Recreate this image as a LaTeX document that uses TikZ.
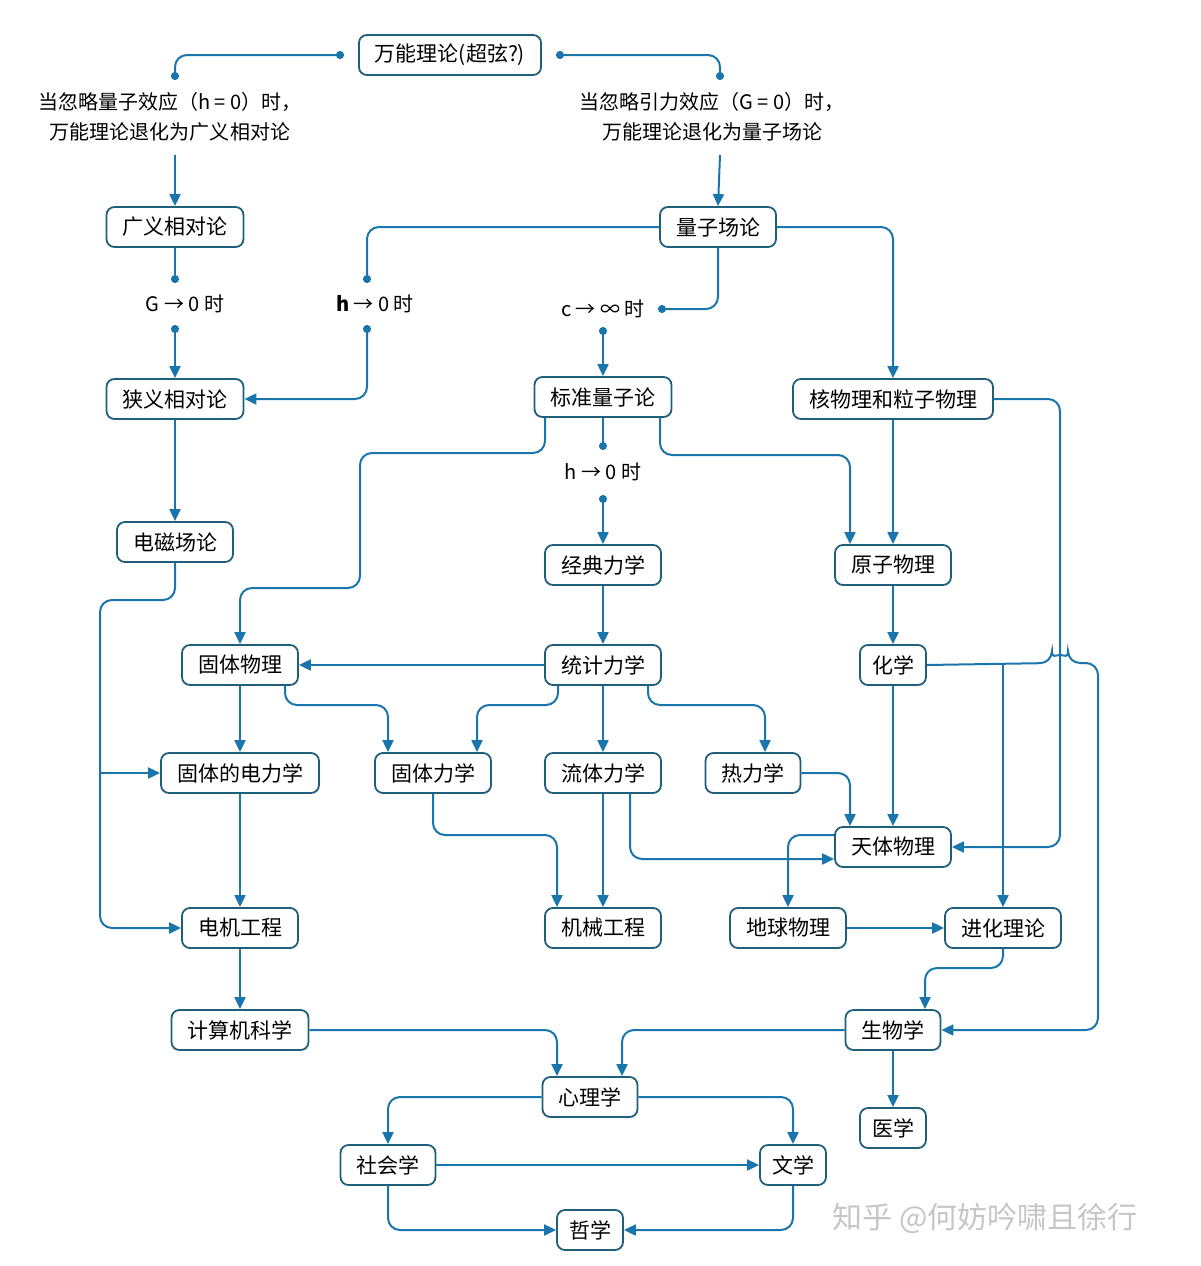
\documentclass[tikz,border=0pt]{standalone}
\usepackage{fontspec}
\setmainfont{Noto Sans CJK SC}
\usetikzlibrary{arrows.meta,calc}
\definecolor{boxc}{HTML}{1F5F7A}
\definecolor{lc}{HTML}{1B75AD}
\begin{document}
\begin{tikzpicture}[x=1pt,y=-1pt,
  box/.style={draw=boxc,line width=1.8pt,rounded corners=8pt,fill=white,minimum height=40pt,inner xsep=16pt,font=\fontsize{21}{24}\selectfont},
  lbl/.style={font=\fontsize{20}{30}\selectfont,align=center,inner sep=0pt},
  ln/.style={draw=lc,line width=2pt,rounded corners=12pt},
  ar/.style={ln,-{Triangle[length=12pt,width=11pt]}},
  ld/.style={ln,-{Circle[length=8pt]}},
  da/.style={ln,{Circle[length=8pt]}-{Triangle[length=12pt,width=11pt]}},
  dd/.style={ln,{Circle[length=8pt]}-{Circle[length=8pt]}}]
\useasboundingbox (0,0) rectangle (1200,1266);
% nodes
\node[box] (toe) at (450,55) {万能理论(超弦?)};
\node[lbl] (lq) at (170,117) {当忽略量子效应（h = 0）时，\\万能理论退化为广义相对论};
\node[lbl] (lg) at (712,117) {当忽略引力效应（G = 0）时，\\万能理论退化为量子场论};
\node[box] (gr) at (175,227) {广义相对论};
\node[box] (qft) at (718,227) {量子场论};
\node[lbl] (g0) at (185,304) {G → 0 时};
\node[lbl] (h0a) at (375,304) {\textbf{h} → 0 时};
\node[lbl] (c0) at (603,309) {c → ∞ 时};
\node[box] (sr) at (175,399) {狭义相对论};
\node[box] (sqt) at (603,397) {标准量子论};
\node[box] (npp) at (893,399) {核物理和粒子物理};
\node[lbl] (h0b) at (603,472) {h → 0 时};
\node[box] (em) at (175,542) {电磁场论};
\node[box] (cm) at (603,565) {经典力学};
\node[box] (ap) at (893,565) {原子物理};
\node[box] (ssp) at (240,665) {固体物理};
\node[box] (sm) at (603,665) {统计力学};
\node[box,inner xsep=12pt] (chem) at (893,665) {化学};
\node[box] (sed) at (240,773) {固体的电力学};
\node[box] (sme) at (433,773) {固体力学};
\node[box] (fm) at (603,773) {流体力学};
\node[box] (td) at (753,773) {热力学};
\node[box] (ast) at (893,847) {天体物理};
\node[box] (ee) at (240,928) {电机工程};
\node[box] (me) at (603,928) {机械工程};
\node[box] (geo) at (788,928) {地球物理};
\node[box] (evo) at (1003,928) {进化理论};
\node[box] (cs) at (240,1030) {计算机科学};
\node[box] (bio) at (893,1030) {生物学};
\node[box] (psy) at (590,1097) {心理学};
\node[box,inner xsep=12pt] (med) at (893,1128) {医学};
\node[box] (soc) at (388,1165) {社会学};
\node[box,inner xsep=12pt] (lit) at (793,1165) {文学};
\node[box,inner xsep=12pt] (phi) at (590,1230) {哲学};
\node[font=\fontsize{30}{32}\selectfont,text=gray!45] (wm) at (985,1218) {知乎 @何妨吟啸且徐行};
% connectors
\draw[dd] ([xshift=-14pt]toe.west) -| (175,80);
\draw[dd] ([xshift=14pt]toe.east) -| (720,80);
\draw[ar] (175,155) -- (gr.north);
\draw[ar] (720,155) -- (qft.north);
\draw[ld] (gr.south) -- (175,283);
\draw[da] (175,325) -- (sr.north);
\draw[ld] (qft.west) -| (367,283);
\draw[da] (367,325) |- (sr.east);
\draw[ld] (qft.south) |- (658,309);
\draw[da] (603,327) -- (sqt.north);
\draw[ar] (qft.east) -| (npp.north);
\draw[ar] (sr.south) -- (em.north);
\draw[ar] (em.south) |- (100,600) |- (ee.west);
\draw[ar] (100,773) -- (sed.west);
\draw[ar] ([xshift=-58pt]sqt.south) |- (360,453) |- (240,588) -- (ssp.north);
\draw[ld] (sqt.south) -- (603,450);
\draw[da] (603,495) -- (cm.north);
\draw[ar] ([xshift=57pt]sqt.south) |- (850,455) -- ([xshift=-43pt]ap.north);
\draw[ar] (npp.south) -- (ap.north);
\draw[ar] (npp.east) -| (1060,847) -- (ast.east);
\draw[ar] (chem.east) -- (1052,663) arc[start angle=180,end angle=360,radius=8] -- (1098,663) -- (1098,1030) -- (bio.east);
\draw[ar] (1003,663) -- (evo.north);
\draw[ar] (ap.south) -- (chem.north);
\draw[ar] (chem.south) -- (ast.north);
\draw[ar] (cm.south) -- (sm.north);
\draw[ar] (sm.west) -- (ssp.east);
\draw[ar] ([xshift=-45pt]sm.south) |- (477,705) -- ([xshift=44pt]sme.north);
\draw[ar] (sm.south) -- (fm.north);
\draw[ar] ([xshift=45pt]sm.south) |- (765,705) -- ([xshift=12pt]td.north);
\draw[ar] (ssp.south) -- (sed.north);
\draw[ar] ([xshift=45pt]ssp.south) |- (388,705) -- ([xshift=-45pt]sme.north);
\draw[ar] (sed.south) -- (ee.north);
\draw[ar] (ee.south) -- (cs.north);
\draw[ar] (sme.south) |- (557,835) -- ([xshift=-46pt]me.north);
\draw[ar] (fm.south) -- (me.north);
\draw[ar] ([xshift=27pt]fm.south) |- ([yshift=-12pt]ast.west);
\draw[ar] (td.east) -| ([xshift=-43pt]ast.north);
\draw[ar] ([yshift=12pt]ast.west) -| (geo.north);
\draw[ar] (geo.east) -- (evo.west);
\draw[ar] (evo.south) |- (925,968) -- ([xshift=32pt]bio.north);
\draw[ar] (cs.east) -| ([xshift=-33pt]psy.north);
\draw[ar] (bio.west) -| ([xshift=32pt]psy.north);
\draw[ar] (bio.south) -- (med.north);
\draw[ar] (psy.west) -| (soc.north);
\draw[ar] (psy.east) -| (lit.north);
\draw[ar] (soc.east) -- (lit.west);
\draw[ar] (soc.south) |- (phi.west);
\draw[ar] (lit.south) |- (phi.east);
\end{tikzpicture}
\end{document}
